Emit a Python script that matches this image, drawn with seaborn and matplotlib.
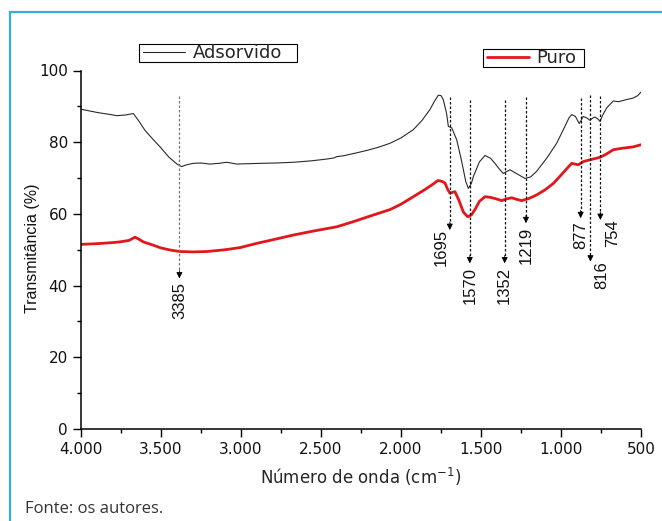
import matplotlib
matplotlib.use("Agg")
import matplotlib.pyplot as plt
import seaborn as sns
import pandas as pd
from matplotlib import font_manager as fm
from matplotlib.lines import Line2D
from matplotlib.patches import Rectangle
from matplotlib.ticker import MultipleLocator, FuncFormatter

# ---------------- data ----------------
ads_x = [4000, 3900, 3800, 3777, 3720, 3673, 3640, 3600, 3550, 3506, 3450, 3400, 3371, 3340,
         3298, 3250, 3194, 3140, 3089, 3027, 2960, 2881, 2780, 2673, 2560, 2464, 2420, 2400,
         2361, 2290, 2214, 2140, 2069, 2000, 1923, 1870, 1819, 1790, 1767, 1750, 1736, 1715,
         1704, 1683, 1652, 1620, 1595, 1579, 1560, 1548, 1510, 1475, 1440, 1413, 1385, 1361,
         1340, 1319, 1280, 1225, 1190, 1152, 1090, 1027, 980, 950, 933, 910, 886, 861, 840,
         819, 800, 788, 770, 756, 740, 714, 673, 640, 589, 550, 520, 500]
ads_y = [89.2, 88.3, 87.6, 87.4, 87.6, 88.0, 86.0, 83.3, 80.8, 78.7, 75.8, 73.9, 73.2, 73.7,
         74.1, 74.2, 73.9, 74.1, 74.4, 73.9, 74.0, 74.1, 74.2, 74.4, 74.8, 75.3, 75.6, 76.0,
         76.2, 76.9, 77.7, 78.6, 79.7, 81.2, 83.5, 86.0, 89.1, 91.5, 93.1, 93.0, 91.9, 88.0,
         84.4, 84.0, 80.7, 74.5, 69.0, 67.1, 68.5, 70.4, 74.5, 76.3, 75.5, 74.1, 72.5, 71.3,
         71.8, 72.3, 71.3, 69.9, 70.3, 71.9, 75.5, 79.7, 84.0, 86.8, 87.7, 87.2, 85.2, 87.2, 86.8,
         86.1, 86.8, 87.0, 86.5, 85.8, 87.5, 89.6, 91.5, 91.3, 91.9, 92.3, 93.0, 94.0]

puro_x = [4000, 3900, 3800, 3756, 3700, 3663, 3640, 3611, 3550, 3500, 3440, 3381, 3300, 3214,
          3100, 3006, 2900, 2800, 2673, 2550, 2402, 2300, 2200, 2069, 2000, 1923, 1850, 1800,
          1770, 1756, 1740, 1725, 1708, 1694, 1663, 1640, 1610, 1583, 1560, 1538, 1510, 1475,
          1440, 1413, 1371, 1340, 1308, 1280, 1246, 1200, 1152, 1100, 1048, 990, 950, 933, 892,
          860, 819, 790, 756, 720, 673, 620, 548, 500]
puro_y = [51.5, 51.7, 52.0, 52.2, 52.6, 53.5, 53.0, 52.2, 51.3, 50.5, 49.9, 49.5, 49.4, 49.5,
          50.0, 50.6, 51.8, 52.8, 54.1, 55.2, 56.4, 57.8, 59.3, 61.2, 62.7, 64.8, 66.8, 68.3,
          69.3, 69.2, 69.0, 68.6, 66.8, 65.8, 66.2, 64.0, 60.5, 59.2, 59.7, 61.2, 63.5, 64.8,
          64.6, 64.3, 63.7, 64.2, 64.5, 64.1, 63.7, 64.3, 65.3, 66.7, 68.5, 71.3, 73.3, 74.1, 73.7,
          74.6, 75.1, 75.4, 75.8, 76.6, 77.9, 78.3, 78.7, 79.3]

series_names = ["Adsorvido", "Puro"]
peak_labels = [3385, 1695, 1570, 1352, 1219, 877, 816, 754]

# annotation layout (line top, arrow tip in %, label horizontal offset in pt)
ann_top = [93.0, 92.7, 91.9, 91.9, 92.7, 92.2, 93.2, 93.0]
ann_tip = [42.0, 55.5, 46.2, 46.2, 57.4, 58.8, 46.7, 58.3]
ann_dx = [0, -6.5, 0, 0, 0, 0, 8, 8.6]

# ---------------- fonts ----------------
def has_font(name):
    try:
        fm.findfont(fm.FontProperties(family=name), fallback_to_default=False)
        return True
    except Exception:
        return False

sns.set_style("ticks")
plt.rcParams["font.family"] = ["DejaVu Sans"]
if has_font("Liberation Sans Narrow"):
    narrow, peak_fs, ylab_fs = "Liberation Sans Narrow", 15, 14
else:
    narrow, peak_fs, ylab_fs = "Liberation Sans", 12, 11.5

W, H = 662, 521
fig = plt.figure(figsize=(W / 100, H / 100), dpi=100)
ax = fig.add_axes([81 / W, 1 - 429 / H, 560 / W, (429 - 70.5) / H])

BLACK_C, RED_C = "#2a2a2a", "#e3161b"
df_a = pd.DataFrame({"x": ads_x, "y": ads_y})
df_p = pd.DataFrame({"x": puro_x, "y": puro_y})
sns.lineplot(data=df_a, x="x", y="y", ax=ax, color=BLACK_C, lw=0.8, sort=False, legend=False)
sns.lineplot(data=df_p, x="x", y="y", ax=ax, color=RED_C, lw=2.0, sort=False, legend=False)

ax.set_xlim(4000, 500)
ax.set_ylim(0, 100)
ax.xaxis.set_major_locator(MultipleLocator(500))
ax.xaxis.set_minor_locator(MultipleLocator(250))
ax.yaxis.set_major_locator(MultipleLocator(20))
ax.yaxis.set_minor_locator(MultipleLocator(10))
ax.xaxis.set_major_formatter(FuncFormatter(lambda v, p: f"{int(round(v)):,}".replace(",", ".")))
ax.tick_params(axis="both", which="major", direction="out", length=5.5, width=1.0,
               labelsize=11, pad=4, color="black", labelcolor="#111")
ax.tick_params(axis="both", which="minor", direction="out", length=3, width=1.0, color="black")
for s in ["top", "right"]:
    ax.spines[s].set_visible(False)
for s in ["left", "bottom"]:
    ax.spines[s].set_linewidth(1.1)
    ax.spines[s].set_color("black")
ax.set_facecolor("white")

ax.set_xlabel("Número de onda (cm$^{\\mathregular{-1}}$)", fontsize=12, labelpad=6)
ax.set_ylabel("")
fig.text(32 / W, 1 - 248 / H, "Transmitância (%)", rotation=90, ha="center", va="center",
         fontsize=ylab_fs, family=[narrow, "DejaVu Sans"], color="#111")

# peak annotations
for lab, top, tip, dx in zip(peak_labels, ann_top, ann_tip, ann_dx):
    col = "#777777" if lab == 3385 else "#111111"
    ax.plot([lab, lab], [top, tip + 1.5], color=col, lw=0.9, ls=(0, (2, 1.6)))
    ax.annotate("", xy=(lab, tip), xytext=(lab, tip + 2.2),
                arrowprops=dict(arrowstyle="-|>", color="black", lw=0.6,
                                mutation_scale=9, shrinkA=0, shrinkB=0))
    ax.annotate(str(lab), xy=(lab, tip), xytext=(dx, -2.5 if dx == 0 else 0.5),
                textcoords="offset points", rotation=90, ha="center", va="top",
                fontsize=peak_fs, family=[narrow, "DejaVu Sans"], color="#111")

# legends (two separate boxes, drawn with exact frames)
def legend_box(x0, y0, x1, y1, color, lw, label):
    fig.add_artist(Rectangle((x0 / W, 1 - y1 / H), (x1 - x0) / W, (y1 - y0) / H,
                             transform=fig.transFigure, fill=True, facecolor="white",
                             edgecolor="black", lw=0.8))
    h = Line2D([], [], color=color, lw=lw)
    lg = fig.legend([h], [label], loc="center left",
                    bbox_to_anchor=((x0 + 4) / W, 1 - (y0 + y1) / 2 / H),
                    frameon=False, fontsize=13, borderpad=0, borderaxespad=0,
                    handlelength=2.3, handletextpad=0.45)
    return lg

legend_box(139, 44, 297, 62, BLACK_C, 0.8, series_names[0])
legend_box(483, 49, 584, 67, RED_C, 2.0, series_names[1])

# blue frame
fig.add_artist(Line2D([10 / W, 10 / W], [0, 1 - 12 / H], color="#3aaade", lw=1.6,
                      transform=fig.transFigure))
fig.add_artist(Line2D([10 / W, 1], [1 - 12 / H, 1 - 12 / H], color="#3aaade", lw=1.6,
                      transform=fig.transFigure))

# source
fig.text(25 / W, 1 - 509 / H, "Fonte: os autores.", ha="left", va="center", fontsize=12,
         family=["Open Sans", "DejaVu Sans"], weight="normal", color="#333333")

fig.savefig("out.png", dpi=100, facecolor="white")
